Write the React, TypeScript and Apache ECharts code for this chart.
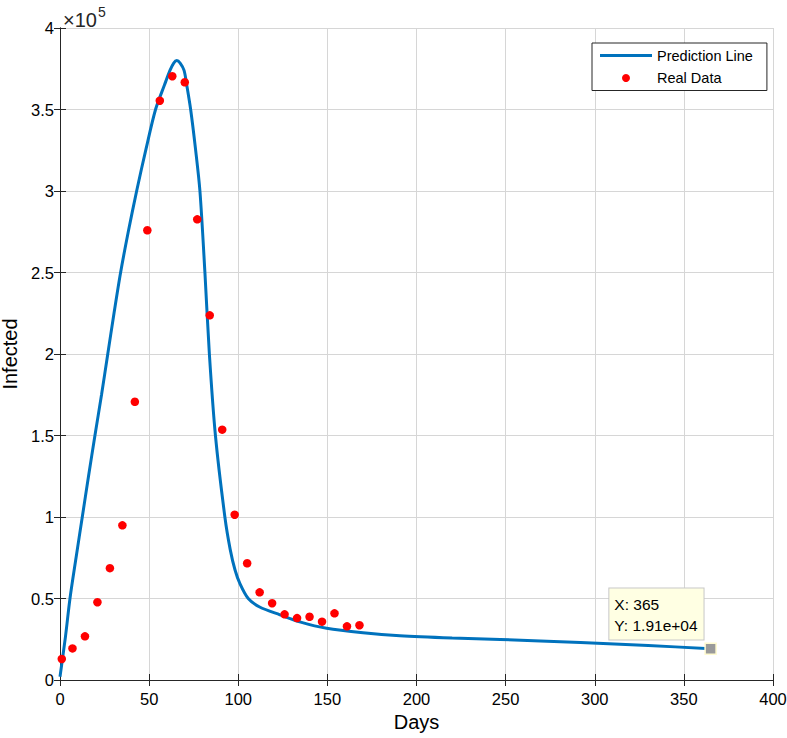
import React, { useEffect, useRef } from "react";
import * as echarts from "echarts";

const realDays = [1, 7, 14, 21, 28, 35, 42, 49, 56, 63, 70, 77, 84, 91, 98, 105, 112, 119, 126, 133, 140, 147, 154, 161, 168];
const realValues = [12900, 19400, 26800, 47700, 68600, 94900, 170700, 275900, 355400, 370400, 366700, 282600, 223700, 153600, 101400, 71600, 53800, 47100, 40300, 38000, 38800, 35800, 40900, 32900, 33600];

const predDays = [0, 3, 5.6, 9, 12.5, 16, 19.6, 23.3, 26.8, 30.3, 34, 38.3, 43, 48.3, 53.6, 58.6, 61.7, 63.8, 65.5, 67.4, 69.6, 71.1, 73.3, 76, 78.5, 81.3, 83.8, 87.2, 92.5, 95.5, 98.2, 101, 105.6, 112, 123.4, 135, 149.6, 170, 190.7, 220, 247, 292, 330, 365];
const predValues = [2000, 26000, 50000, 75000, 100000, 125000, 150000, 175000, 200000, 225000, 250000, 275000, 300000, 326000, 350000, 365000, 374000, 378500, 380000, 378500, 374000, 365000, 350000, 326000, 300000, 250000, 200000, 150000, 100000, 80000, 67500, 59000, 50000, 44800, 40000, 35500, 31700, 29000, 27200, 25800, 24900, 23000, 21200, 19100];

const xTicks = { min: 0, max: 400, interval: 50 };
const yTicks = { min: 0, max: 400000, interval: 50000 };
const yScale = 100000;
const tipIndex = predDays.length - 1;

const FONT = "'Liberation Sans', Arial, Helvetica, sans-serif";
const LINE_COLOR = "#0072BD";

function fmtExp(v: number): string {
  const s = v.toExponential(2);
  const [m, e] = s.split("e");
  const sign = e[0] === "-" ? "-" : "+";
  const digits = e.replace(/[+-]/, "").padStart(2, "0");
  return `${m}e${sign}${digits}`;
}

export default function App() {
  const ref = useRef<HTMLDivElement>(null);
  useEffect(() => {
    if (!ref.current) return;
    const chart = echarts.init(ref.current, null, { renderer: "svg" });
    const axisLine = { show: true, lineStyle: { color: "#262626", width: 1 } };
    const axisTick = { show: true, inside: true, length: 6, lineStyle: { color: "#262626", width: 1 } };
    const splitLine = { show: true, lineStyle: { color: "#d6d6d6", width: 1 } };
    const tipX = predDays[tipIndex];
    const tipY = predValues[tipIndex];
    chart.setOption({
      animation: false,
      backgroundColor: "#ffffff",
      title: {
        text: "{a|×10}{b|5}",
        left: 58,
        top: 0,
        textStyle: {
          rich: {
            a: { fontFamily: FONT, fontSize: 20, fontWeight: "normal", color: "#262626", verticalAlign: "bottom", lineHeight: 25 },
            b: { fontFamily: FONT, fontSize: 14, fontWeight: "normal", color: "#262626", verticalAlign: "top", lineHeight: 25, padding: [0, 0, 11, 1] },
          },
        },
      },
      grid: { left: 60, top: 28, width: 713, height: 652, containLabel: false, outerBoundsMode: "none" },
      legend: {
        orient: "vertical",
        left: 592,
        top: 43,
        padding: [4, 14, 4, 8],
        itemWidth: 52,
        itemHeight: 8,
        itemGap: 5.5,
        borderColor: "#262626",
        borderWidth: 1,
        backgroundColor: "#ffffff",
        textStyle: { fontFamily: FONT, fontSize: 14.5, color: "#000", lineHeight: 17 },
        data: [
          { name: "Prediction Line", icon: "path://M0,0 L52,0 L52,3 L0,3 Z" },
          { name: "Real Data" },
        ],
      },
      xAxis: [
        {
          type: "value",
          min: xTicks.min,
          max: xTicks.max,
          interval: xTicks.interval,
          name: "Days",
          nameLocation: "middle",
          nameGap: 30,
          nameTextStyle: { fontFamily: FONT, fontSize: 20, color: "#000" },
          axisLine,
          axisTick,
          splitLine,
          axisLabel: { fontFamily: FONT, fontSize: 16.5, color: "#000", margin: 10 },
        },
        {
          type: "value",
          position: "top",
          min: xTicks.min,
          max: xTicks.max,
          interval: xTicks.interval,
          axisLine,
          axisTick,
          splitLine: { show: false },
          axisLabel: { show: false },
        },
      ],
      yAxis: [
        {
          type: "value",
          min: yTicks.min,
          max: yTicks.max,
          interval: yTicks.interval,
          name: "Infected",
          nameLocation: "middle",
          nameGap: 38,
          nameTextStyle: { fontFamily: FONT, fontSize: 20, color: "#000" },
          axisLine,
          axisTick,
          splitLine,
          axisLabel: {
            fontFamily: FONT,
            fontSize: 16.5,
            color: "#000",
            margin: 6,
            formatter: (v: number) => String(v / yScale),
          },
        },
        {
          type: "value",
          position: "right",
          min: yTicks.min,
          max: yTicks.max,
          interval: yTicks.interval,
          axisLine,
          axisTick,
          splitLine: { show: false },
          axisLabel: { show: false },
        },
      ],
      series: [
        {
          name: "Prediction Line",
          type: "line",
          data: predDays.map((d, i) => [d, predValues[i]]),
          smooth: 0.3,
          showSymbol: false,
          symbol: "none",
          lineStyle: { color: LINE_COLOR, width: 3 },
          itemStyle: { color: LINE_COLOR },
          z: 2,
        },
        {
          name: "Real Data",
          type: "scatter",
          data: realDays.map((d, i) => [d, realValues[i]]),
          symbol: "circle",
          symbolSize: 8.5,
          itemStyle: { color: "#ff0000", opacity: 1 },
          z: 3,
        },
        {
          name: "tip",
          type: "scatter",
          data: [[tipX, tipY]],
          symbol: "rect",
          symbolSize: 11,
          itemStyle: { color: "#9a9a9a", borderColor: "#fffbd0", borderWidth: 1.5, opacity: 1 },
          label: {
            show: true,
            position: [-95, -54],
            align: "left",
            verticalAlign: "top",
            formatter: () => `X: ${tipX}\nY: ${fmtExp(tipY)}`,
            fontFamily: FONT,
            fontSize: 15.5,
            lineHeight: 21,
            color: "#000",
            backgroundColor: "#ffffe3",
            borderColor: "#c8c8c8",
            borderWidth: 1,
            padding: [5, 6, 4, 5],
          },
          z: 4,
        },
      ],
    });
    return () => chart.dispose();
  }, []);
  return (
    <div
      ref={ref}
      style={{ position: "fixed", left: 0, top: 0, width: 787, height: 738 }}
    />
  );
}
